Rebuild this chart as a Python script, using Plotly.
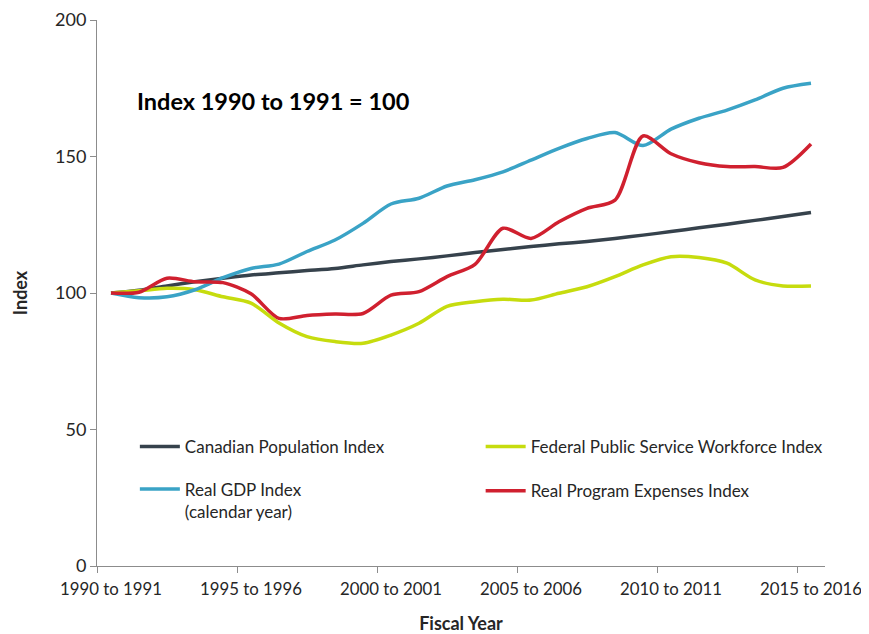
import plotly.graph_objects as go

years = [f"{y} to {y + 1}" for y in range(1990, 2016)]

population = [100, 101.0, 102.6, 104.1, 105.4, 106.6, 107.4, 108.2, 109.0, 110.3,
              111.5, 112.5, 113.6, 114.8, 115.9, 117.0, 118.0, 118.9, 120.0, 121.2,
              122.5, 123.9, 125.2, 126.6, 128.0, 129.5]
workforce = [100, 100.8, 101.7, 101.2, 98.6, 96.3, 89.0, 84.0, 82.2, 81.6,
             84.6, 88.9, 95.1, 96.8, 97.7, 97.4, 99.9, 102.3, 106.0, 110.3,
             113.3, 113.0, 110.9, 104.8, 102.6, 102.6]
gdp = [100, 98.3, 98.6, 101.2, 105.6, 109.0, 110.6, 115.2, 119.4, 125.5,
       132.6, 134.7, 139.2, 141.5, 144.4, 148.7, 153.0, 156.6, 158.8, 154.0,
       160.0, 164.0, 167.0, 170.7, 175.0, 176.8]
expenses = [100, 100.3, 105.4, 104.1, 103.8, 99.7, 90.7, 91.8, 92.3, 92.5,
            99.2, 100.5, 106.0, 110.5, 123.7, 120.0, 126.1, 131.0, 134.0, 157.5,
            151.0, 147.7, 146.3, 146.3, 146.0, 154.6]

tick_labels = ["1990 to 1991", "1995 to 1996", "2000 to 2001",
               "2005 to 2006", "2010 to 2011", "2015 to 2016"]

FONT = "Lato"
TXT = "#262626"

# category positions (Excel-style category axis, ticks between categories)
xpos = list(range(len(years)))
label_pos = [years.index(t) for t in tick_labels]
boundary_pos = [p - 0.5 for p in label_pos]

series = [
    ("Canadian Population Index", population, "#36424c", "legend"),
    ("Federal Public Service Workforce Index", workforce, "#c6dc0e", "legend2"),
    ("Real GDP Index<br>(calendar year)", gdp, "#3aa3c6", "legend3"),
    ("Real Program Expenses Index", expenses, "#d0202f", "legend4"),
]

fig = go.Figure()
for name, vals, col, lg in series:
    fig.add_trace(go.Scatter(x=xpos, y=vals, name=name, mode="lines", showlegend=True,
                             text=years, hovertemplate="%{text}: %{y}",
                             line=dict(color=col, width=3.5, shape="spline", smoothing=0.8),
                             legend=lg))

# page body has an 8px margin, so the figure is drawn 8px smaller than the window
leg = dict(font=dict(family=FONT, size=17, color=TXT), bgcolor="rgba(0,0,0,0)",
           itemwidth=40, xanchor="left", yanchor="middle", valign="top")
fig.update_layout(
    width=861, height=626, showlegend=True,
    margin=dict(l=89, r=44, t=12, b=68, autoexpand=False),
    plot_bgcolor="white", paper_bgcolor="white",
    font=dict(family=FONT, size=18, color=TXT),
    legend=dict(leg, x=0.052, y=0.218),
    legend2=dict(leg, x=0.527, y=0.218),
    legend3=dict(leg, x=0.052, y=0.12),
    legend4=dict(leg, x=0.527, y=0.137),
    xaxis=dict(range=[-0.5, len(years) - 0.5], tickmode="array", tickvals=label_pos,
               ticktext=tick_labels, tickangle=0, ticks="",
               minor=dict(tickmode="array", tickvals=boundary_pos, ticks="outside",
                          ticklen=6, tickcolor="#8c8c8c", showgrid=False),
               showline=True, linecolor="#8c8c8c", linewidth=1, showgrid=False, zeroline=False,
               ticklabelstandoff=8, tickfont=dict(size=16.8),
               title=dict(text="<b>Fiscal Year</b>", font=dict(size=18), standoff=20)),
    yaxis=dict(range=[0, 200], dtick=50, ticks="outside", ticklen=6, tickcolor="#8c8c8c",
               showline=True, linecolor="#8c8c8c", linewidth=1, showgrid=False, zeroline=False,
               tickfont=dict(size=18), title=dict(text="<b>Index</b>", font=dict(size=18), standoff=22)),
    annotations=[dict(text="<b>Index 1990 to 1991 = 100</b>", xref="paper", yref="paper",
                      x=0.052, y=0.852, xanchor="left", yanchor="middle", showarrow=False,
                      font=dict(family=FONT, size=23.5, color="#000000"))],
)

fig.write_html("out.html")
